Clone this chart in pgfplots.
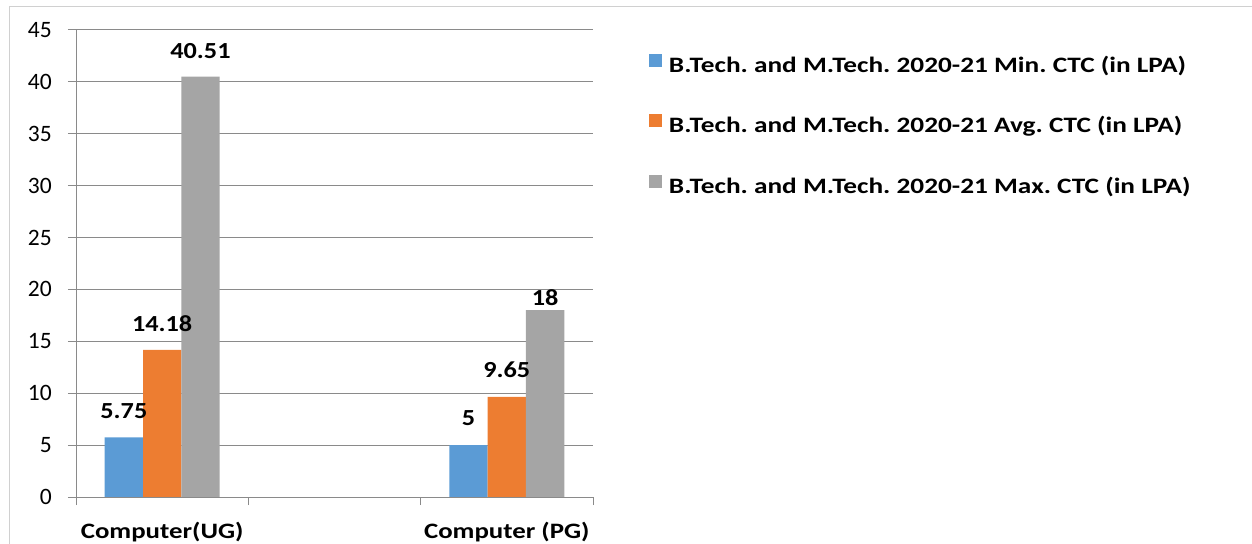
\documentclass[border=0pt]{standalone}
\usepackage{pgfplots}
\pgfplotsset{compat=1.18}
\usepackage{pgfplotstable}
\usepackage{fontspec}
\setmainfont{Carlito}
\newfontfamily\widefont{Carlito}[FakeStretch=1.22]
\newfontfamily\legfont{Carlito}[FakeStretch=1.24]
\newfontfamily\midfont{Carlito}[FakeStretch=1.14]
\newcommand\ytl[1]{{\fontsize{23.5bp}{27bp}\selectfont #1}}
\frenchspacing
\definecolor{cmin}{HTML}{5B9BD5}
\definecolor{cavg}{HTML}{ED7D31}
\definecolor{cmax}{HTML}{A5A5A5}
\definecolor{gridc}{HTML}{8A8A8A}
\definecolor{framec}{HTML}{D0D0D0}

\pgfplotstableread{
x y off
0 5.75 26
2 5 27
}\minT
\pgfplotstableread{
x y off
0 14.18 26
2 9.65 27
}\avgT
\pgfplotstableread{
x y off
0 40.51 26
2 18 13
}\maxT

\begin{document}
\begin{tikzpicture}
\useasboundingbox (0,0) rectangle (1252bp,544bp);
\draw[framec, line width=1bp] (9bp,-5bp) -- (9bp,537bp) -- (1260bp,537bp);
\begin{axis}[
  at={(76bp,47bp)}, anchor=south west,
  scale only axis, width=517bp, height=467bp,
  xmin=-0.5, xmax=2.5, ymin=0, ymax=45,
  ytick={0,5,10,15,20,25,30,35,40,45},
  yticklabels={\ytl{0},\ytl{5},\ytl{10},\ytl{15},\ytl{20},\ytl{25},\ytl{30},\ytl{35},\ytl{40},\ytl{45}},
  xtick={0,2}, xticklabels={Computer(UG),Computer (PG)},
  minor xtick={-0.5,0.5,1.5,2.5},
  axis x line*=bottom, axis y line*=left,
  axis line style={draw=gridc, line width=1bp},
  ymajorgrids, grid style={draw=gridc, line width=1bp},
  tick align=outside,
  major tick length=8bp, minor tick length=8bp,
  tick style={draw=gridc, line width=1bp},
  major x tick style={draw=none},
  /pgf/number format/assume math mode=true,
  yticklabel style={font=\fontsize{23.5bp}{27bp}\selectfont, inner sep=0pt, anchor=east, xshift=-16bp},
  xticklabel style={font=\widefont\bfseries\fontsize{22bp}{26bp}\selectfont, inner sep=0pt, anchor=base, yshift=-33bp},
  ybar=0pt, bar width=0.2222,
  nodes near coords,
  point meta=y,
  every node near coord/.append style={font=\midfont\bfseries\fontsize{23bp}{27bp}\selectfont, anchor=center, inner sep=0pt, yshift=\off bp},
  visualization depends on={\thisrow{off}\as\off},
  legend style={draw=none, fill=none, at={(1.1083,0.7944)}, anchor=west, inner sep=0pt, outer sep=0pt,
    row sep=37bp, font=\legfont\bfseries\fontsize{22bp}{26bp}\selectfont,
    nodes={inner sep=0pt, text height=16bp, text depth=5bp},
    /tikz/every odd column/.style={column sep=7bp}},
  legend cell align=left,
]
\addplot[fill=cmin, draw=none, legend image code/.code={\fill[cmin] (0bp,0bp) rectangle (13bp,13bp);}] table[x=x,y=y] {\minT};
\addlegendentry{B.Tech. and M.Tech. 2020-21 Min. CTC (in LPA)}
\addplot[fill=cavg, draw=none, legend image code/.code={\fill[cavg] (0bp,0bp) rectangle (13bp,13bp);}] table[x=x,y=y] {\avgT};
\addlegendentry{B.Tech. and M.Tech. 2020-21 Avg. CTC (in LPA)}
\addplot[fill=cmax, draw=none, legend image code/.code={\fill[cmax] (0bp,0bp) rectangle (13bp,13bp);}] table[x=x,y=y] {\maxT};
\addlegendentry{B.Tech. and M.Tech. 2020-21 Max. CTC (in LPA)}
\end{axis}
\end{tikzpicture}
\end{document}
